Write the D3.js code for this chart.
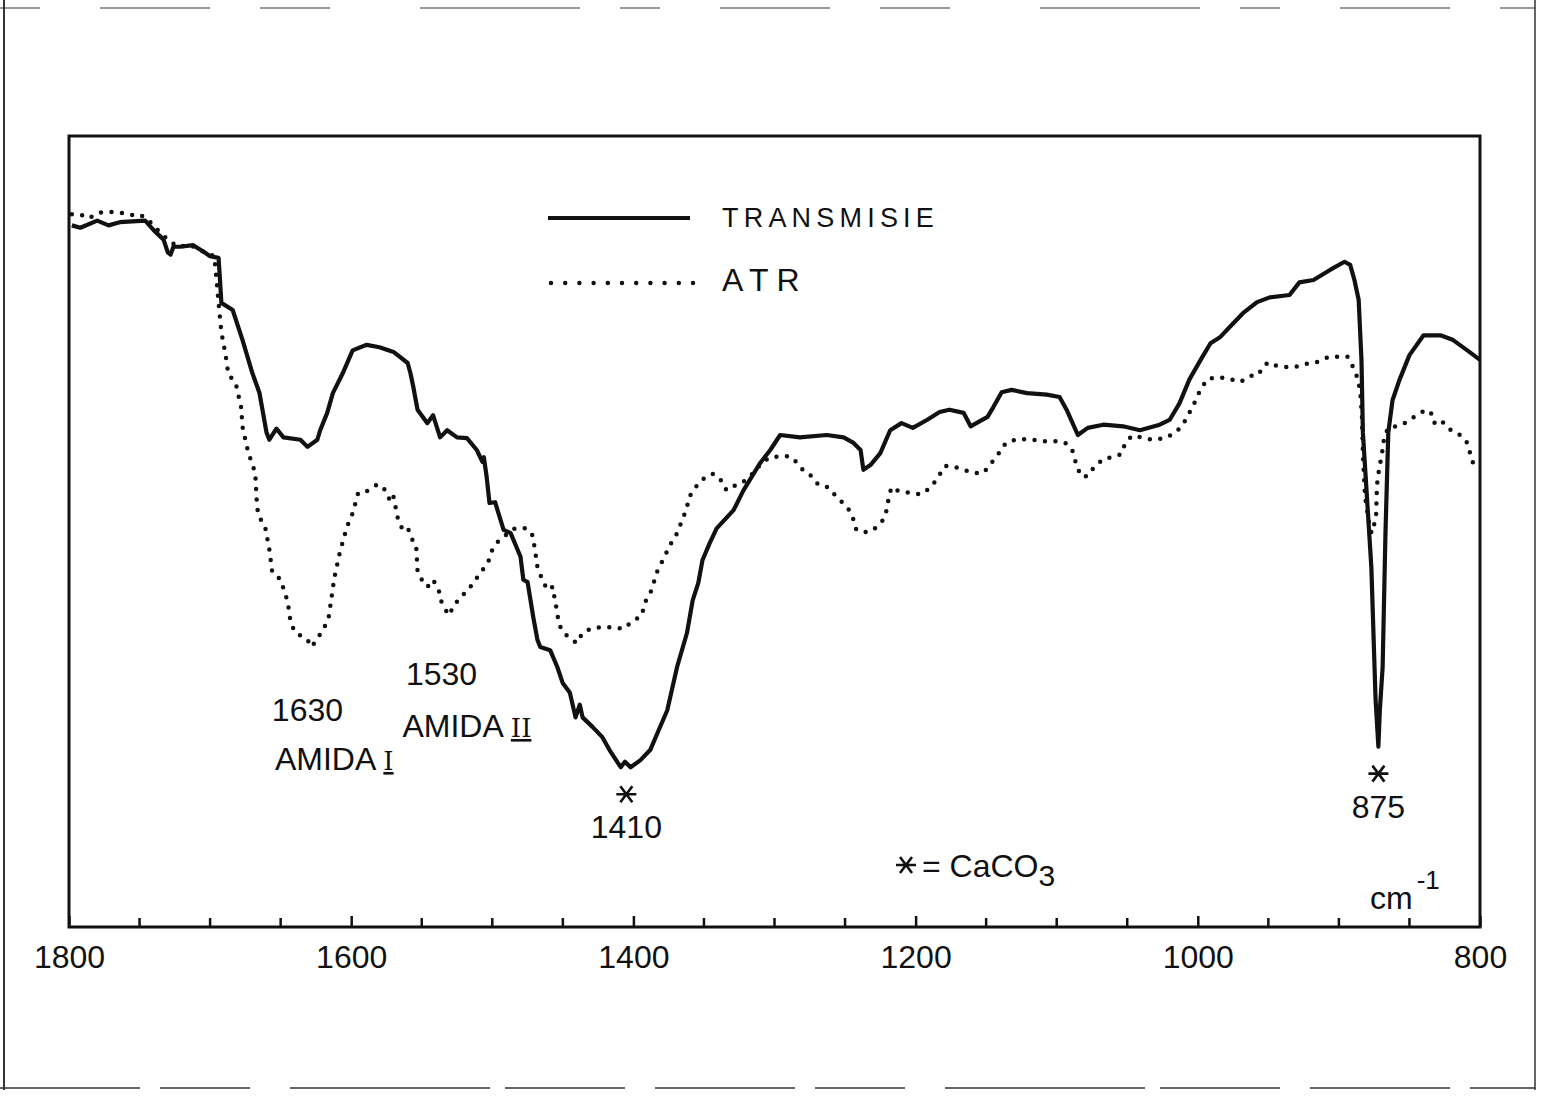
<!DOCTYPE html>
<html>
<head>
<meta charset="utf-8">
<script src="https://cdn.jsdelivr.net/npm/d3@7"></script>
<style>
  html, body { margin: 0; padding: 0; background: #fff; }
  svg { display: block; }
  text { font-family: "Liberation Sans", Arial, sans-serif; fill: #111; }
</style>
</head>
<body>
<svg id="chart" width="1546" height="1097"></svg>
<script>
// wavenumber (cm-1) and transmittance (arbitrary %)
var transWn = [1798,1792,1780,1772,1764,1746,1740,1733,1730,1728,1726,1721,1712,1704,1700,1694,1693,1692,1684,1677,
  1670,1665,1660,1658,1653,1648,1636,1631,1624,1622,1617,1613,1606,1599,1589,1580,1570,1560,1558,1556,
  1553,1546,1542,1537,1532,1525,1518,1511,1507,1506,1504,1502,1498,1492,1487,1480,1478,1475,1471,1468,
  1466,1459,1454,1450,1445,1441,1438,1436,1429,1422,1417,1409,1406,1402,1395,1388,1383,1376,1369,1362,
  1358,1354,1351,1346,1341,1329,1322,1310,1303,1296,1282,1263,1251,1244,1239,1237,1232,1225,1218,1210,
  1202,1192,1183,1176,1166,1161,1156,1149,1145,1139,1132,1121,1107,1098,1093,1085,1078,1067,1053,1041,
  1027,1020,1013,1006,998,991,984,976,968,958,949,935,928,918,906,896,892,889,886,884,
  883,880,877,874,872,871,869,867,865,862,857,850,840,828,819,809,800];
var transVal = [88.7,88.4,89.3,88.7,89.1,89.3,88.1,86.9,85.3,85.0,86.0,86.0,86.2,85.3,84.8,84.6,81.8,78.9,78.0,74.2,
  70.0,67.5,62.5,61.6,63.0,61.9,61.6,60.7,61.6,62.8,65.0,67.5,70.0,72.9,73.6,73.3,72.7,71.3,70.0,68.3,
  65.4,63.7,64.7,61.9,62.8,61.9,61.8,60.3,58.8,59.4,56.9,53.6,53.7,50.2,49.8,46.8,43.9,43.6,39.2,36.3,
  35.4,35.0,32.9,30.8,29.6,26.5,28.1,26.5,25.3,24.0,22.4,20.2,20.9,20.2,21.1,22.4,24.5,27.4,32.9,37.2,
  41.3,43.5,46.4,48.5,50.4,52.7,55.2,58.7,60.3,62.2,61.9,62.2,61.9,61.2,60.3,57.8,58.4,59.9,62.8,63.7,
  63.1,64.1,65.1,65.4,65.0,63.3,63.8,64.5,65.7,67.6,67.9,67.5,67.3,67.0,65.4,62.2,63.1,63.5,63.3,62.8,
  63.5,64.1,66.2,69.2,71.7,73.8,74.6,76.1,77.6,79.0,79.6,79.9,81.5,81.8,83.1,84.1,83.7,81.8,79.3,71.7,
  62.5,54.0,45.5,28.7,22.8,27.4,32.9,49.8,62.5,66.6,69.2,72.3,74.8,74.8,74.2,72.9,71.7];

var atrWn = [1798,1792,1786,1779,1771,1763,1756,1750,1744,1737,1730,1723,1714,1704,1697,1693,1692,1689,1687,1682,
  1678,1677,1673,1668,1667,1666,1661,1658,1656,1650,1645,1643,1640,1631,1628,1624,1620,1616,1612,1608,
  1603,1599,1595,1589,1582,1578,1575,1572,1570,1567,1564,1560,1558,1554,1553,1550,1546,1542,1538,1536,
  1531,1528,1523,1518,1503,1500,1496,1490,1484,1477,1472,1470,1468,1465,1461,1457,1456,1454,1453,1450,
  1445,1440,1436,1429,1422,1414,1407,1401,1394,1392,1388,1383,1378,1374,1369,1366,1362,1361,1356,1351,
  1344,1339,1334,1328,1322,1315,1309,1303,1296,1289,1284,1280,1273,1269,1262,1257,1252,1247,1244,1242,
  1234,1227,1222,1220,1219,1217,1212,1205,1196,1189,1184,1179,1173,1166,1159,1152,1147,1141,1136,1128,
  1117,1110,1101,1094,1089,1087,1085,1083,1078,1074,1067,1060,1054,1052,1047,1040,1032,1023,1015,1010,
  1006,1002,998,993,985,978,970,962,957,954,950,945,938,931,923,916,907,901,894,890,
  887,885,883.7,882.9,881.5,877.9,876.6,873.7,873.0,871.6,869.5,868.1,865.3,859,852,845,838,833,832,826,
  820,814,809,807,805,801];
var atrVal = [90.1,90.1,89.6,90.3,90.4,90.3,90.0,90.1,89.4,88.1,86.9,86.0,86.2,85.3,84.8,77.0,75.2,72.3,69.8,68.9,
  65.7,63.2,60.0,57.4,54.0,52.1,50.6,47.7,44.9,43.9,41.1,38.6,37.3,36.3,35.4,36.5,37.5,39.1,44.1,47.4,
  50.6,52.3,54.9,55.1,55.9,55.8,54.9,53.7,54.4,51.7,50.4,50.6,49.3,48.3,45.1,43.9,43.0,43.9,42.6,41.1,
  39.4,40.3,41.7,42.4,46.1,47.7,48.7,49.6,50.4,50.4,49.8,48.0,45.5,44.1,42.6,43.0,41.7,39.8,38.4,37.3,
  36.5,35.9,37.2,37.8,37.9,37.9,37.7,38.6,39.4,41.0,42.2,45.0,46.8,48.3,49.8,51.2,53.0,54.2,55.6,56.6,
  57.3,56.8,55.2,55.8,56.3,57.4,58.7,59.4,59.5,59.5,58.7,57.8,56.9,55.9,55.6,54.6,53.7,52.7,51.5,50.2,
  49.9,50.6,51.7,53.1,54.4,55.6,55.1,54.9,54.7,55.6,56.9,58.3,58.2,57.8,57.4,57.4,58.5,59.9,61.2,61.7,
  61.6,61.4,61.4,61.2,60.3,59.0,58.0,57.0,57.0,58.0,59.2,59.4,59.8,60.9,62.1,61.9,61.6,61.8,62.6,63.7,
  65.0,66.4,68.0,69.3,69.5,69.3,68.9,69.7,69.8,70.8,71.4,71.0,70.8,70.8,71.2,71.4,72.1,72.1,72.1,70.8,
  69.5,67.9,64.7,59.4,54.4,50.2,49.8,51.8,55.9,57.8,59.8,61.6,63.1,63.3,63.8,64.7,65.4,64.7,63.5,63.8,
  62.7,62.2,61.2,59.9,58.7,58.2];

var tickValues = [1800, 1600, 1400, 1200, 1000, 800];
var minorTicks = [1750, 1700, 1650, 1550, 1500, 1450, 1350, 1300, 1250, 1150, 1100, 1050, 950, 900, 850];
var seriesNames = ["TRANSMISIE", "ATR"];
var peakWn = [1405, 872];
var peakLabels = ["1410", "875"];

var svg = d3.select("#chart");
var plotLeft = 69, plotRight = 1480, plotTop = 136, plotBottom = 927;

var x = d3.scaleLinear().domain([1800, 800]).range([plotLeft, plotRight]);
var y = d3.scaleLinear().domain([0, 100]).range([plotBottom, plotTop]);

// scanned page border
var page = svg.append("g").attr("stroke", "#333").attr("fill", "none");
page.append("line").attr("x1", 4).attr("y1", 0).attr("x2", 4).attr("y2", 1090).attr("stroke-width", 2);
page.append("line").attr("x1", 1535).attr("y1", 0).attr("x2", 1535).attr("y2", 1090).attr("stroke-width", 1.5);
page.append("line").attr("x1", 0).attr("y1", 1088).attr("x2", 1535).attr("y2", 1088)
    .attr("stroke-width", 1.5).attr("stroke-dasharray", "140,20,90,40,200,15,120,30");
page.append("line").attr("x1", 0).attr("y1", 8).attr("x2", 1535).attr("y2", 8)
    .attr("stroke-width", 1.2).attr("stroke-dasharray", "40,60,110,50,70,90,160,40");

// frame
svg.append("rect")
    .attr("x", plotLeft).attr("y", plotTop)
    .attr("width", plotRight - plotLeft).attr("height", plotBottom - plotTop)
    .attr("fill", "none").attr("stroke", "#111").attr("stroke-width", 3);

// bottom axis: ticks pointing inward
var axis = d3.axisBottom(x).tickValues(tickValues).tickSize(-11).tickFormat(d3.format("d")).tickPadding(22);
var gx = svg.append("g").attr("transform", "translate(0," + plotBottom + ")").call(axis);
gx.select(".domain").remove();
gx.selectAll(".tick line").attr("stroke", "#111").attr("stroke-width", 2.5);
gx.selectAll(".tick text").attr("font-size", 32).attr("font-family", "Liberation Sans, Arial, sans-serif")
    .attr("fill", "#111").attr("dy", "0.6em");

svg.append("g").selectAll("line").data(minorTicks).join("line")
    .attr("x1", function(d){ return x(d); }).attr("x2", function(d){ return x(d); })
    .attr("y1", plotBottom).attr("y2", plotBottom - 9)
    .attr("stroke", "#111").attr("stroke-width", 2.5);

var line = d3.line()
    .x(function(d){ return x(d[0]); })
    .y(function(d){ return y(d[1]); });

var transData = d3.zip(transWn, transVal);
var atrData = d3.zip(atrWn, atrVal);

svg.append("path").datum(atrData)
    .attr("d", line).attr("fill", "none")
    .attr("stroke", "#111").attr("stroke-width", 4.5)
    .attr("stroke-linecap", "round").attr("stroke-dasharray", "0,10.5");

svg.append("path").datum(transData)
    .attr("d", line).attr("fill", "none")
    .attr("stroke", "#111").attr("stroke-width", 4.2)
    .attr("stroke-linejoin", "round");

// legend
var lg = svg.append("g");
lg.append("line").attr("x1", 548).attr("x2", 690).attr("y1", 218).attr("y2", 218)
    .attr("stroke", "#111").attr("stroke-width", 4);
lg.append("line").attr("x1", 551).attr("x2", 693).attr("y1", 283).attr("y2", 283)
    .attr("stroke", "#111").attr("stroke-width", 4.5)
    .attr("stroke-linecap", "round").attr("stroke-dasharray", "0,14.2");
lg.append("text").attr("x", 722).attr("y", 227).attr("font-size", 27)
    .attr("letter-spacing", 5.2).text(seriesNames[0]);
lg.append("text").attr("x", 722).attr("y", 291).attr("font-size", 32)
    .attr("letter-spacing", 8).text(seriesNames[1]);

function asterisk(g, cx, cy) {
    var p = d3.path();
    p.moveTo(cx - 10, cy); p.lineTo(cx + 10, cy);
    p.moveTo(cx - 6, cy - 8); p.lineTo(cx + 6, cy + 8);
    p.moveTo(cx - 6, cy + 8); p.lineTo(cx + 6, cy - 8);
    g.append("path").attr("d", p.toString()).attr("stroke", "#111").attr("stroke-width", 2.6).attr("fill", "none");
}

// CaCO3 peaks
var ann = svg.append("g");
peakWn.forEach(function(wn, i){
    var px = x(wn);
    var py = d3.max(transData.filter(function(d){ return Math.abs(d[0] - wn) < 12; }), function(d){ return y(d[1]); });
    asterisk(ann, px, py + 27);
    ann.append("text").attr("x", px).attr("y", py + 71).attr("font-size", 32)
        .attr("text-anchor", "middle").text(peakLabels[i]);
});

// amide bands
ann.append("text").attr("x", x(1631)).attr("y", 721).attr("font-size", 32).attr("text-anchor", "middle").text("1630");
var a1 = ann.append("text").attr("x", x(1612)).attr("y", 770).attr("font-size", 32).attr("text-anchor", "middle");
a1.append("tspan").text("AMIDA ");
a1.append("tspan").attr("font-family", "DejaVu Serif, serif").attr("font-size", 26)
    .attr("text-decoration", "underline").text("I");

ann.append("text").attr("x", x(1536)).attr("y", 685).attr("font-size", 32).attr("text-anchor", "middle").text("1530");
var a2 = ann.append("text").attr("x", x(1518)).attr("y", 737).attr("font-size", 32).attr("text-anchor", "middle");
a2.append("tspan").text("AMIDA ");
a2.append("tspan").attr("font-family", "DejaVu Serif, serif").attr("font-size", 26)
    .attr("text-decoration", "underline").text("II");

// key for the asterisk
asterisk(ann, 906, 865);
var key = ann.append("text").attr("x", 922).attr("y", 877).attr("font-size", 32);
key.append("tspan").text("= CaCO");
key.append("tspan").attr("dy", 9).attr("font-size", 30).text("3");

var unit = ann.append("text").attr("x", 1370).attr("y", 909).attr("font-size", 32);
unit.append("tspan").text("cm");
unit.append("tspan").attr("dx", 4).attr("dy", -20).attr("font-size", 26).text("-1");
</script>
</body>
</html>
